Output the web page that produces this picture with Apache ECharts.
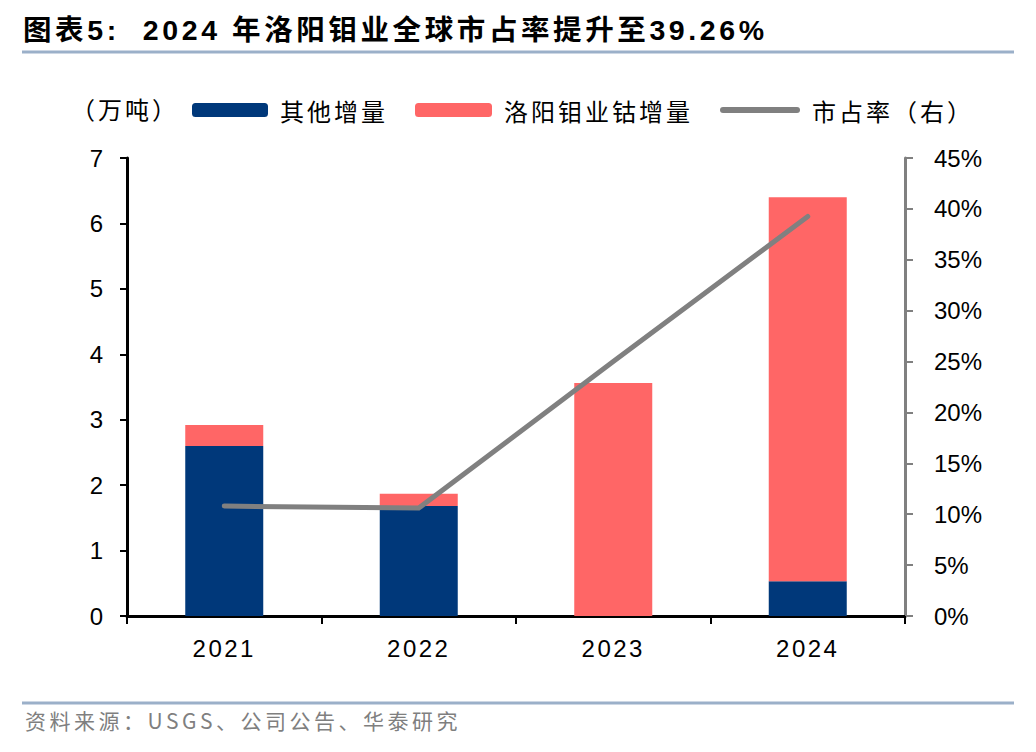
<!DOCTYPE html>
<html>
<head>
<meta charset="utf-8">
<script src="https://cdn.jsdelivr.net/npm/echarts@6/dist/echarts.min.js"></script>
<style>
html,body{margin:0;padding:0;background:#fff;}
#chart{width:1036px;height:752px;}
svg text{white-space:pre;}
svg text[style*="28.51px"]{letter-spacing:3.6px;}
svg text[style*="24.01px"]{letter-spacing:3px;}
svg text[style*="21.01px"]{letter-spacing:3.5px;}
svg text[style*="24.02px"]{letter-spacing:2.5px;}
</style>
</head>
<body>
<div id="chart"></div>
<script>
// ---- data ----
const years = ['2021', '2022', '2023', '2024'];
const otherIncrease = [2.60, 1.68, 0, 0.53];      // 其他增量 (万吨)
const cmocIncrease = [0.32, 0.19, 3.56, 5.87];    // 洛阳钼业钴增量 (万吨)
const marketShare = [0.108, 0.106, 0.25, 0.3926]; // 市占率（右）

const seriesNames = ['其他增量', '洛阳钼业钴增量', '市占率（右）'];
const titleText = '图表5:  2024 年洛阳钼业全球市占率提升至39.26%';
const sourceText = '资料来源：USGS、公司公告、华泰研究';
const unitText = '（万吨）';

const NAVY = '#00387A';
const RED = '#FF6666';
const GRAY = '#808080';
const LATIN = '"Liberation Sans", Arial, "Noto Sans CJK SC", sans-serif';
const CJK = '"Noto Sans CJK SC", "Liberation Sans", sans-serif';

const chart = echarts.init(document.getElementById('chart'), null, {renderer: 'svg'});

function legendFor(item, left, width, height) {
  return {
    data: [item],
    left: left,
    top: 98,
    padding: 0,
    itemWidth: width,
    itemHeight: height,
    selectedMode: false,
    textStyle: {fontSize: 24.01, fontFamily: CJK, color: '#000', padding: [0, 0, 0, 7]}
  };
}

chart.setOption({
  animation: false,
  backgroundColor: '#fff',
  graphic: [
    {type: 'text', left: 23, top: 16, style: {text: titleText, fontSize: 28.51, fontWeight: 'bold', fontFamily: LATIN, fill: '#000'}},
    {type: 'line', shape: {x1: 22, y1: 52, x2: 1014, y2: 52}, style: {stroke: '#9BB0C9', lineWidth: 3}},
    {type: 'text', left: 71, top: 96, style: {text: unitText, fontSize: 24.01, fontFamily: CJK, fill: '#000'}},
    {type: 'line', shape: {x1: 22, y1: 703, x2: 1014, y2: 703}, style: {stroke: '#9BB0C9', lineWidth: 3}},
    {type: 'text', left: 25, top: 709, style: {text: sourceText, fontSize: 21.01, fontFamily: CJK, fill: '#7F7F7F'}}
  ],
  legend: [
    legendFor(seriesNames[0], 192, 76, 14),
    legendFor(seriesNames[1], 415, 77, 14),
    legendFor({name: seriesNames[2], icon: 'path://M3,0 L77,0 A3,3 0 0 1 77,6 L3,6 A3,3 0 0 1 3,0 Z'}, 720, 80, 6)
  ],
  grid: {left: 127, right: 131, top: 158, bottom: 136, containLabel: false},
  xAxis: {
    type: 'category',
    data: years,
    axisLine: {show: true, lineStyle: {color: '#000', width: 3}},
    axisTick: {show: true, alignWithLabel: false, length: 8, lineStyle: {color: '#000', width: 2}},
    axisLabel: {fontSize: 24.02, fontFamily: LATIN, color: '#000', margin: 20},
    splitLine: {show: false}
  },
  yAxis: [
    {
      type: 'value', min: 0, max: 7, interval: 1,
      axisLine: {show: true, lineStyle: {color: '#000', width: 3}},
      axisTick: {show: true, length: 7, lineStyle: {color: '#000', width: 2}},
      axisLabel: {fontSize: 24, fontFamily: LATIN, color: '#000', margin: 24},
      splitLine: {show: false}
    },
    {
      type: 'value', position: 'right', min: 0, max: 0.45, interval: 0.05,
      axisLine: {show: true, lineStyle: {color: GRAY, width: 3}},
      axisTick: {show: true, length: 8, lineStyle: {color: GRAY, width: 2}},
      axisLabel: {fontSize: 24, fontFamily: LATIN, color: '#000', margin: 29,
        formatter: v => Math.round(v * 100) + '%'},
      splitLine: {show: false}
    }
  ],
  series: [
    {name: seriesNames[0], type: 'bar', stack: 'total', data: otherIncrease, barWidth: 78,
      itemStyle: {color: NAVY}},
    {name: seriesNames[1], type: 'bar', stack: 'total', data: cmocIncrease, barWidth: 78,
      itemStyle: {color: RED}},
    {name: seriesNames[2], type: 'line', yAxisIndex: 1, data: marketShare, symbol: 'none',
      lineStyle: {color: GRAY, width: 5, cap: 'round', join: 'round'}, itemStyle: {color: GRAY}, z: 5}
  ]
});
</script>
</body>
</html>
